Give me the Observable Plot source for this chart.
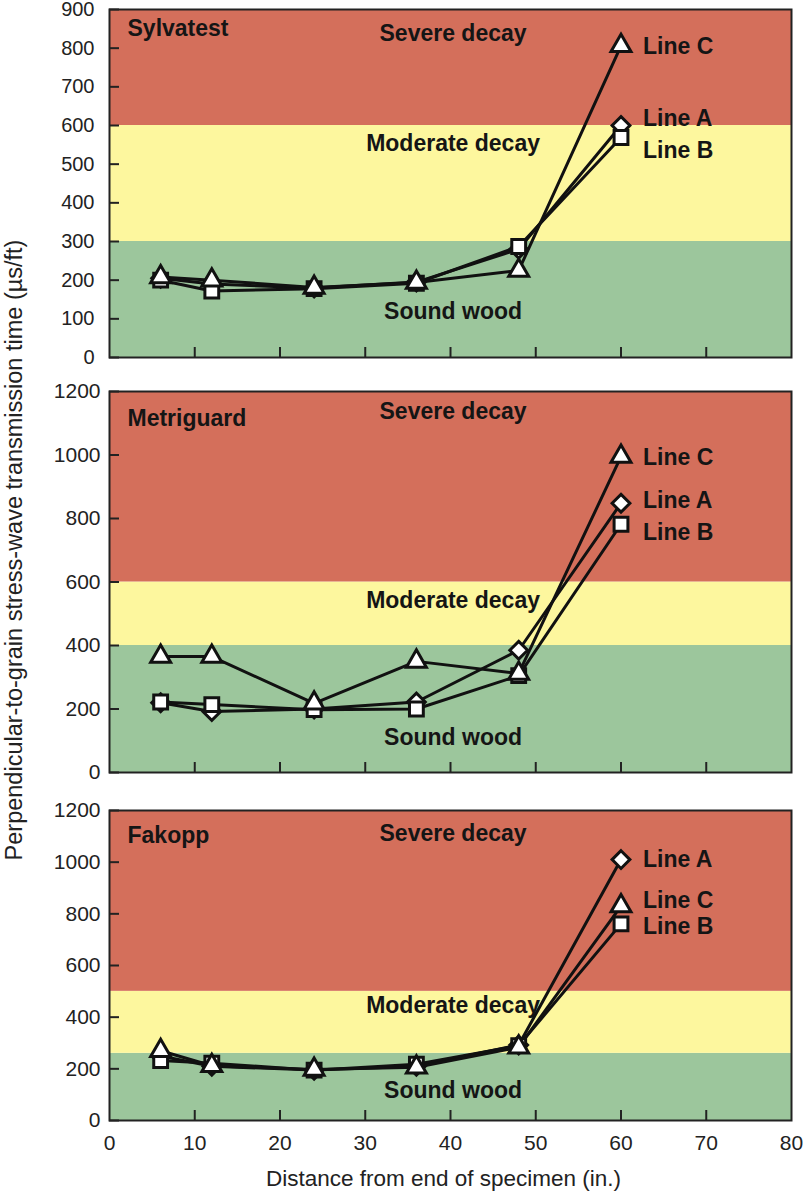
<!DOCTYPE html>
<html>
<head>
<meta charset="utf-8">
<script src="https://cdn.jsdelivr.net/npm/d3@7"></script>
<script src="https://cdn.jsdelivr.net/npm/@observablehq/plot@0.6"></script>
<style>
  body { margin: 0; background: #fff; }
  #wrap { position: relative; width: 807px; height: 1199px; font-family: "Liberation Sans", Arial, sans-serif; color: #222; }
  .panel { position: absolute; left: 0; overflow: visible; }
  #ytitle { position: absolute; left: 14px; top: 550px; transform: translate(-50%, -50%) rotate(-90deg); white-space: nowrap; font-size: 23.5px; color: #222; }
</style>
</head>
<body>
<div id="wrap"><div id="ytitle">Perpendicular-to-grain stress-wave transmission time (µs/ft)</div></div>
<script>
// ---- data ----
const distance = [6, 12, 24, 36, 48, 60];
const xTicks = [0, 10, 20, 30, 40, 50, 60, 70, 80];
const seriesNames = ["Line A", "Line B", "Line C"];
const seriesSymbols = ["diamond2", "square", "triangle"];
const zoneNames = ["Sound wood", "Moderate decay", "Severe decay"];
const zoneColors = ["#9cc69c", "#fdf79e", "#d46f5b"];

// Sylvatest
const sylvatestA = [205, 190, 180, 195, 280, 600];
const sylvatestB = [200, 172, 178, 192, 287, 569];
const sylvatestC = [208, 200, 181, 194, 225, 806];
const sylvatestZones = [0, 300, 600, 900];
const sylvatestYTicks = [0, 100, 200, 300, 400, 500, 600, 700, 800, 900];
const sylvatestZoneLabelY = [119, 553, 837];
const sylvatestLineLabelY = [617, 535, 805];

// Metriguard
const metriguardA = [220, 192, 200, 222, 385, 848];
const metriguardB = [222, 214, 198, 200, 305, 782];
const metriguardC = [365, 365, 218, 350, 312, 995];
const metriguardZones = [0, 400, 600, 1200];
const metriguardYTicks = [0, 200, 400, 600, 800, 1000, 1200];
const metriguardZoneLabelY = [110, 542, 1137];
const metriguardLineLabelY = [857, 756, 992];

// Fakopp
const fakoppA = [250, 210, 195, 210, 292, 1010];
const fakoppB = [232, 222, 195, 218, 290, 761];
const fakoppC = [270, 212, 197, 206, 284, 830];
const fakoppZones = [0, 260, 500, 1200];
const fakoppYTicks = [0, 200, 400, 600, 800, 1000, 1200];
const fakoppZoneLabelY = [116, 445, 1111];
const fakoppLineLabelY = [1010, 752, 850];

function panel(cfg) {
  const series = [cfg.A, cfg.B, cfg.C];
  const zoneRows = zoneNames.map((n, i) => ({lo: cfg.zones[i], hi: cfg.zones[i + 1], color: zoneColors[i], name: n, ly: cfg.zoneLabelY[i]}));
  const lineLabels = seriesNames.map((n, i) => ({x: distance[distance.length - 1], y: cfg.lineLabelY[i], text: n}));
  const pts = series.map((vals, i) => vals.map((v, j) => ({x: distance[j], y: v, s: seriesNames[i]})));
  const dotR = {diamond2: 8, square: 7.8, triangle: 7.4};
  const marks = [
    Plot.rect(zoneRows, {x1: 0, x2: 80, y1: "lo", y2: "hi", fill: "color"}),
    Plot.text(zoneRows, {x: 40.3, y: "ly", text: "name", fontWeight: "bold", fontSize: cfg.labelFont, fill: "#151515"}),
    Plot.text([cfg.name], {x: 0, y: cfg.nameY, text: d => d, textAnchor: "start", dx: 18, fontWeight: "bold", fontSize: cfg.labelFont, fill: "#151515"}),
    ...pts.map(p => Plot.line(p, {x: "x", y: "y", stroke: "#111", strokeWidth: 3})),
    ...pts.map((p, i) => Plot.dot(p, {x: "x", y: "y", symbol: seriesSymbols[i], r: dotR[seriesSymbols[i]], fill: "white", stroke: "#111", strokeWidth: 3})),
    Plot.text(lineLabels, {x: "x", y: "y", text: "text", textAnchor: "start", dx: 22, fontWeight: "bold", fontSize: cfg.labelFont, fill: "#151515"}),
    Plot.frame({stroke: "#222", strokeWidth: 2}),
    Plot.axisY({ticks: cfg.yTicks, tickSize: -10, tickPadding: cfg.tickPad, tickFormat: d3.format("d"), fontSize: cfg.tickFont, label: null, strokeWidth: 2}),
    Plot.axisX({ticks: xTicks.slice(1, -1), tickSize: -10, tickFormat: () => "", label: null, strokeWidth: 2})
  ];
  if (cfg.showX) {
    marks.push(Plot.axisX({ticks: xTicks, tickSize: 0, tickPadding: 15, tickFormat: d3.format("d"), fontSize: 21, label: null}));
    marks.push(Plot.text(["Distance from end of specimen (in.)"], {frameAnchor: "bottom", dy: 65, dx: -7, text: d => d, fontSize: 22.5, fill: "#222"}));
  }
  const svg = Plot.plot({
    width: 807,
    height: cfg.height,
    marginLeft: 109,
    marginRight: 16,
    marginTop: cfg.mt,
    marginBottom: cfg.mb,
    x: {domain: [0, 80]},
    y: {domain: [0, cfg.zones[3]]},
    color: {type: "identity"},
    style: {fontFamily: "Liberation Sans, Arial, sans-serif", color: "#222", background: "transparent", overflow: "visible"},
    marks
  });
  svg.classList.add("panel");
  svg.style.top = cfg.top + "px";
  document.getElementById("wrap").appendChild(svg);
}

panel({name: "Sylvatest", A: sylvatestA, B: sylvatestB, C: sylvatestC, zones: sylvatestZones, yTicks: sylvatestYTicks,
  zoneLabelY: sylvatestZoneLabelY, lineLabelY: sylvatestLineLabelY, nameY: 850,
  top: 0, height: 370, mt: 9, mb: 13, tickFont: 20, labelFont: 23, tickPad: 25, showX: false});
panel({name: "Metriguard", A: metriguardA, B: metriguardB, C: metriguardC, zones: metriguardZones, yTicks: metriguardYTicks,
  zoneLabelY: metriguardZoneLabelY, lineLabelY: metriguardLineLabelY, nameY: 1115,
  top: 370, height: 410, mt: 21, mb: 8, tickFont: 21, labelFont: 23, tickPad: 19, showX: false});
panel({name: "Fakopp", A: fakoppA, B: fakoppB, C: fakoppC, zones: fakoppZones, yTicks: fakoppYTicks,
  zoneLabelY: fakoppZoneLabelY, lineLabelY: fakoppLineLabelY, nameY: 1103,
  top: 780, height: 419, mt: 30, mb: 79, tickFont: 21, labelFont: 23, tickPad: 19, showX: true});
</script>
</body>
</html>
